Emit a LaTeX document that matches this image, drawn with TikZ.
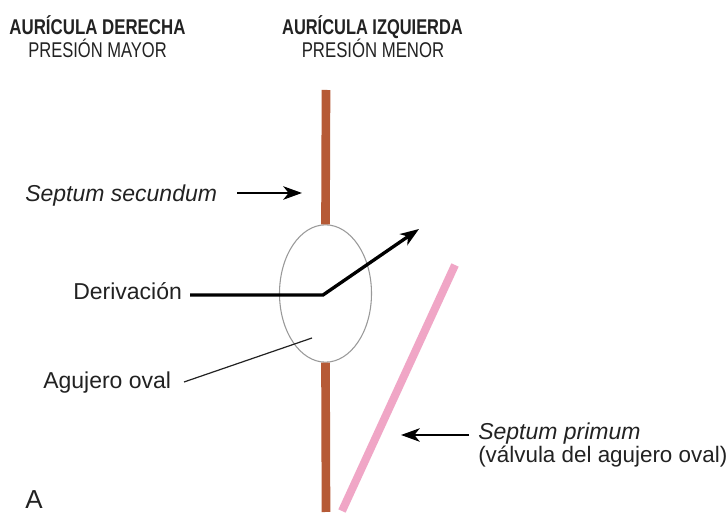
\documentclass[tikz,border=0pt]{standalone}
\usepackage{fontspec}
\setmainfont{Liberation Sans}
\usetikzlibrary{arrows.meta,shapes.geometric}
\definecolor{secundum}{HTML}{B65A36}
\definecolor{primum}{HTML}{F0A6C6}
\definecolor{txt}{HTML}{222222}
\begin{document}
\begin{tikzpicture}[x=0.75pt,y=-0.75pt,
  lab/.style={inner sep=0pt, anchor=base west, text=txt, font=\fontsize{17.25pt}{20pt}\selectfont},
  ilab/.style={lab, font=\fontsize{17.25pt}{20pt}\selectfont\itshape},
  ttl/.style={inner sep=0pt, anchor=base, text=txt, font=\fontsize{16pt}{18pt}\selectfont\bfseries},
  sub/.style={inner sep=0pt, anchor=base, text=txt, font=\fontsize{16pt}{18pt}\selectfont},
  arr/.style={draw=black, line width=2.1pt, -{Stealth[length=14pt,width=10pt,inset=4pt]}},
  bar/.style={line width=6.5pt},
]
\useasboundingbox (0,0) rectangle (726,516);
\fill[white] (0,0) rectangle (726,516);

% titles
\node[ttl, xscale=0.79] (t1) at (97.5,35) {AURÍCULA DERECHA};
\node[sub, xscale=0.775] (s1) at (97.5,57.5) {PRESIÓN MAYOR};
\node[ttl, xscale=0.77] (t2) at (372.5,35) {AURÍCULA IZQUIERDA};
\node[sub, xscale=0.785] (s2) at (373,57.5) {PRESIÓN MENOR};

% septum secundum bars and oval
\node[draw=gray!80, line width=0.8pt, ellipse, minimum width=69pt, minimum height=103pt, inner sep=0pt] (oval) at (325.5,293.5) {};
\coordinate (sstop) at (326,90);
\coordinate (ssbot) at (326,512);
\draw[secundum, bar] (sstop) -- (oval.north);
\draw[secundum, bar] (oval.south) -- (ssbot);

% septum primum
\coordinate (sp1) at (455,265);
\coordinate (sp2) at (342,511);
\draw[primum, line width=6pt] (sp1) -- (sp2);

% labels
\node[ilab] (lsec) at (25,202) {Septum secundum};
\coordinate (asec) at (302,193);
\draw[arr] (237,193) -- (asec);

\node[lab] (lder) at (73,300) {Derivación};
\coordinate (bend) at (323,295);
\coordinate (dtip) at (419,229);
\draw[arr, line width=2.5pt] (190,295) -- (bend) -- (dtip);

\node[lab] (lag) at (43,389) {Agujero oval};
\coordinate (agpt) at (312,338);
\draw[line width=0.9pt, txt] (184,382) -- (agpt);

\node[ilab] (lpri) at (478,440) {Septum primum};
\node[lab, font=\fontsize{16.8pt}{20pt}\selectfont] (lval) at (478,463) {(válvula del agujero oval)};
\coordinate (apri) at (401,435);
\draw[arr] (469,435) -- (apri);

\node[inner sep=0pt, anchor=base west, text=txt, font=\fontsize{19.5pt}{24pt}\selectfont] (la) at (25,509) {A};
\end{tikzpicture}
\end{document}
